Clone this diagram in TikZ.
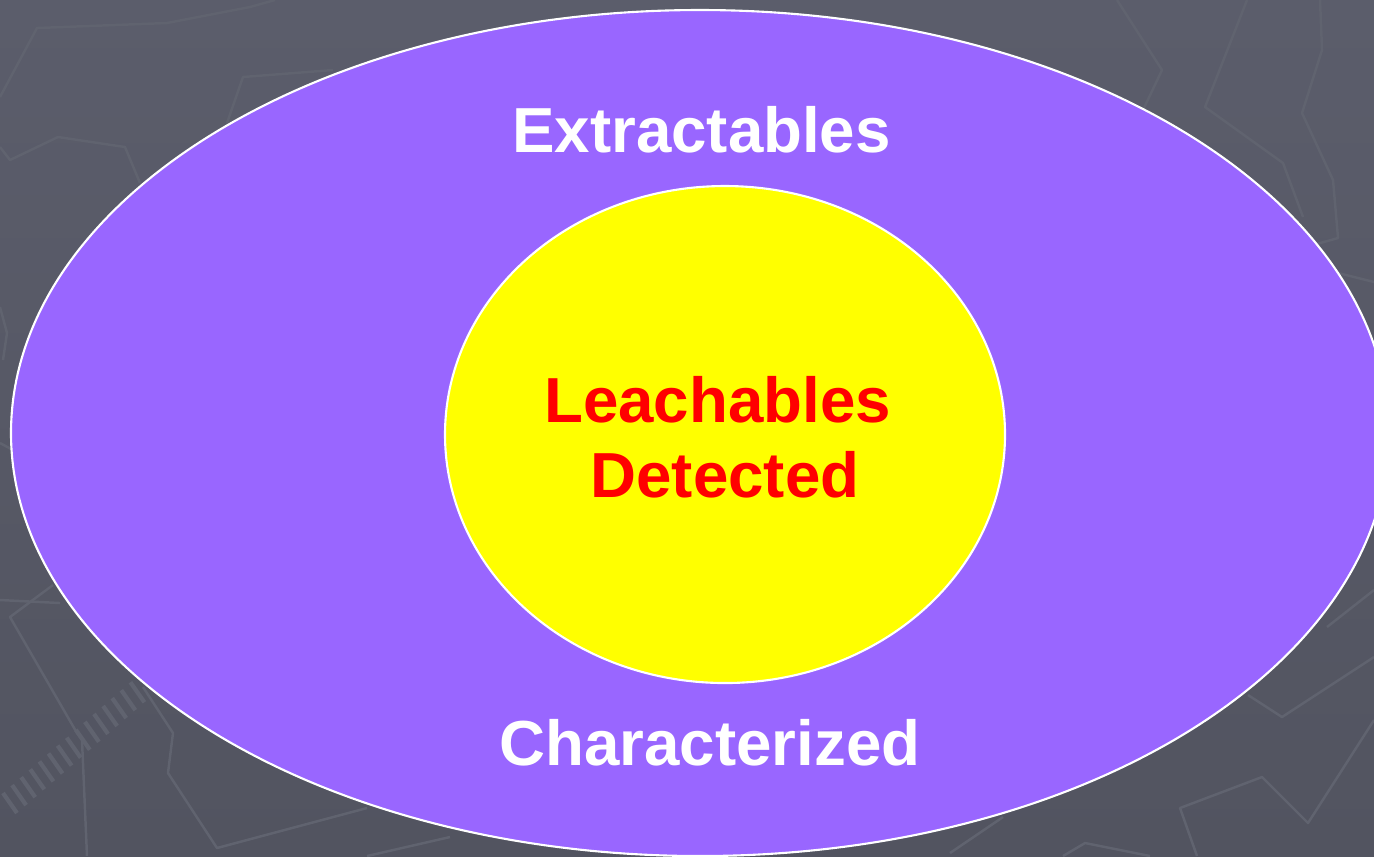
\documentclass[tikz,border=0pt]{standalone}
\usepackage{fontspec}
\setmainfont{Liberation Sans}
\definecolor{bgtop}{HTML}{5B5D6B}
\definecolor{bgbot}{HTML}{525460}
\definecolor{purp}{HTML}{9966FF}
\definecolor{yell}{HTML}{FFFF00}
\definecolor{redt}{HTML}{FF0000}
\definecolor{faint}{HTML}{60636F}
\tikzset{
  bgline/.style={draw=faint, line width=0.7pt, line join=round},
  ellbord/.style={draw=white, line width=0.6pt},
  bigtext/.style={font=\bfseries\fontsize{18.1}{22}\selectfont, anchor=base, inner sep=0pt}
}
\begin{document}
\begin{tikzpicture}[x=0.01cm, y=-0.01cm]
\useasboundingbox (0,0) rectangle (1374,856);
\shade[top color=bgtop, bottom color=bgbot] (0,0) rectangle (1374,856);
% faint background line pattern
\draw[bgline] (0,97) -- (37,28) -- (167,23) -- (250,7) -- (275,0);
\draw[bgline] (0,147) -- (10,160) -- (58,137) -- (125,147) -- (140,183);
\draw[bgline] (227,123) -- (243,77) -- (333,70);
\draw[bgline] (0,307) -- (7,333) -- (3,360);
\draw[bgline] (0,443) -- (13,450);
\draw[bgline] (0,600) -- (60,603);
\draw[bgline] (53,585) -- (10,617) -- (77,733) -- (82,740) -- (87,856);
\draw[bgline] (143,687) -- (173,733) -- (168,773) -- (217,848) -- (367,808);
\draw[bgline] (367,856) -- (450,837);
\foreach \t in {0,0.07,...,1.0}{
  \draw[bgline, line width=1.2pt] ({3+130*\t},{793-113*\t}) -- ({3+130*\t+14},{793-113*\t+20});
}
\draw[bgline] (1117,0) -- (1162,70) -- (1143,110);
\draw[bgline] (1247,0) -- (1205,107) -- (1283,163) -- (1303,217);
\draw[bgline] (1320,0) -- (1322,50) -- (1302,113) -- (1333,180) -- (1338,238) -- (1313,245);
\draw[bgline] (1338,273) -- (1374,282);
\draw[bgline] (1248,695) -- (1282,717) -- (1374,657);
\draw[bgline] (1327,627) -- (1374,590);
\draw[bgline] (1197,856) -- (1180,808) -- (1262,777) -- (1308,823) -- (1374,720);
\draw[bgline] (950,853) -- (1003,817);
\draw[bgline] (1063,856) -- (1085,843) -- (1150,856);
% ellipses
\draw[ellbord, fill=purp] (700,433) ellipse [x radius=689, y radius=423];
\draw[ellbord, fill=yell] (725,434.5) ellipse [x radius=280, y radius=248.5];
% labels
\node[bigtext, text=white] (extr) at (701.5,152) {Extractables};
\node[bigtext, text=redt] (leach) at (717.5,422) {Leachables};
\node[bigtext, text=redt] (detec) at (725,497) {Detected};
\node[bigtext, text=white] (charz) at (710,765) {Characterized};
\end{tikzpicture}
\end{document}
